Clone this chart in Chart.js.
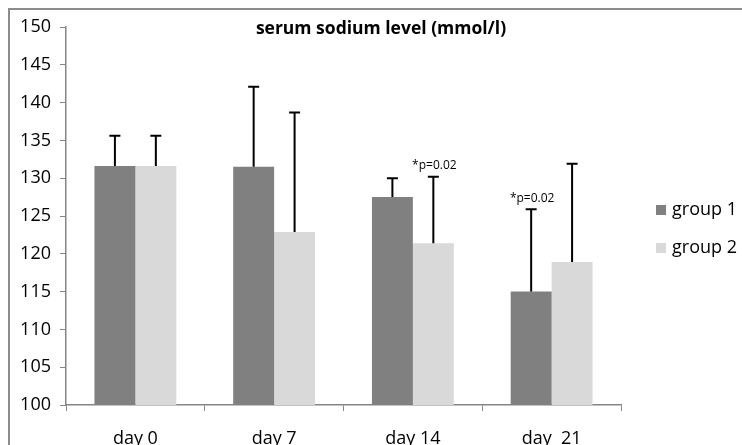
<!DOCTYPE html>
<html>
<head>
<meta charset="utf-8">
<script src="https://cdn.jsdelivr.net/npm/chart.js@4/dist/chart.umd.min.js"></script>
<style>
  html, body { margin:0; padding:0; background:#fff; }
  #wrap { width:742px; height:445px; position:relative; }
</style>
</head>
<body>
<div id="wrap"><canvas id="c" width="742" height="445"></canvas></div>
<script>
// data
const days = ['day 0', 'day 7', 'day 14', 'day  21'];
const group1 = [131.6, 131.5, 127.5, 115.0];
const group2 = [131.6, 122.9, 121.4, 118.9];
const group1Err = [4.0, 10.6, 2.5, 10.9];   // upper error only
const group2Err = [4.0, 15.8, 8.8, 13.0];
const group1Notes = ['', '', '', '*p=0.02'];
const group2Notes = ['', '', '*p=0.02', ''];
const yTicks = [100, 105, 110, 115, 120, 125, 130, 135, 140, 145, 150];

const FONT = '"Open Sans", sans-serif';
const AXIS = '#868686';

// error bars + p-value notes, positioned through the chart scales
const errorBars = {
  id: 'errorBars',
  afterDatasetsDraw(chart){
    const ctx = chart.ctx, y = chart.scales.y;
    chart.data.datasets.forEach((ds, i) => {
      const meta = chart.getDatasetMeta(i);
      meta.data.forEach((bar, j) => {
        const top = y.getPixelForValue(ds.data[j] + ds.err[j]);
        ctx.save();
        ctx.strokeStyle = '#000';
        ctx.lineWidth = 2;
        ctx.beginPath();
        ctx.moveTo(bar.x, bar.y);
        ctx.lineTo(bar.x, top);
        ctx.moveTo(bar.x - 5.5, top);
        ctx.lineTo(bar.x + 5.5, top);
        ctx.stroke();
        if(ds.notes[j]){
          ctx.fillStyle = '#000';
          ctx.font = '12px ' + FONT;
          ctx.textAlign = 'center';
          ctx.textBaseline = 'middle';
          ctx.fillText(ds.notes[j], bar.x + 1, top - 11);
        }
        ctx.restore();
      });
    });
  }
};

// frame, title and legend like the spreadsheet chart
const decor = {
  id: 'decor',
  afterDraw(chart){
    const ctx = chart.ctx;
    ctx.save();
    ctx.strokeStyle = '#8c8c8c';
    ctx.lineWidth = 2;
    ctx.beginPath();
    ctx.moveTo(9, 460); ctx.lineTo(9, 9); ctx.lineTo(760, 9);
    ctx.stroke();

    ctx.fillStyle = '#000';
    ctx.font = 'bold 17.5px ' + FONT;
    ctx.textAlign = 'center';
    ctx.textBaseline = 'middle';
    ctx.fillText('serum sodium level (mmol/l)', 381, 29);

    ctx.font = '18px ' + FONT;
    ctx.textAlign = 'left';
    chart.data.datasets.forEach((ds, i) => {
      const cy = 210 + i * 38;
      ctx.fillStyle = ds.backgroundColor;
      ctx.fillRect(656, cy - 5, 10, 10);
      ctx.fillStyle = '#000';
      ctx.fillText(ds.label, 672, cy);
    });
    ctx.restore();
  }
};

new Chart(document.getElementById('c'), {
  type: 'bar',
  data: {
    labels: days,
    datasets: [
      { label:'group 1', data:group1, err:group1Err, notes:group1Notes, backgroundColor:'#808080' },
      { label:'group 2', data:group2, err:group2Err, notes:group2Notes, backgroundColor:'#d9d9d9' }
    ]
  },
  options: {
    responsive: false,
    animation: false,
    layout: { padding: { left:9, top:27, right:121, bottom:0 } },
    datasets: { bar: { categoryPercentage: 0.59, barPercentage: 1.0 } },
    plugins: { legend:{ display:false }, title:{ display:false }, tooltip:{ enabled:false } },
    scales: {
      x: {
        afterFit(s){ s.height = 40; },
        grid: { drawOnChartArea:false, drawTicks:true, tickLength:6, color:AXIS, offset:true },
        border: { color:AXIS, width:1.5 },
        ticks: { color:'#000', font:{ family:FONT, size:18 }, padding:17 }
      },
      y: {
        min: 100, max: 150,
        afterFit(s){ s.width = 57; },
        afterBuildTicks(s){ s.ticks = yTicks.map(v => ({ value:v })); },
        grid: { drawOnChartArea:false, drawTicks:true, tickLength:6, color:AXIS },
        border: { color:AXIS, width:1.5 },
        ticks: { color:'#000', font:{ family:FONT, size:18 }, padding:9 }
      }
    }
  },
  plugins: [errorBars, decor]
});
</script>
</body>
</html>
